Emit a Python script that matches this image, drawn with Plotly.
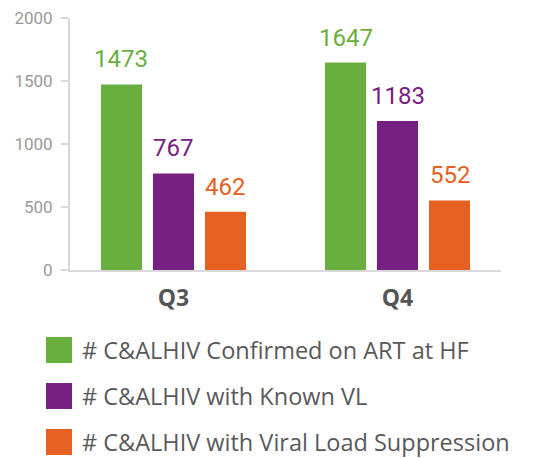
import plotly.graph_objects as go

categories = ["Q3", "Q4"]
series_names = [
    "# C&ALHIV Confirmed on ART at HF",
    "# C&ALHIV with Known VL",
    "# C&ALHIV with Viral Load Suppression",
]
confirmed_art = [1473, 1647]
known_vl = [767, 1183]
vl_suppression = [462, 552]
y_ticks = [0, 500, 1000, 1500, 2000]

series_values = [confirmed_art, known_vl, vl_suppression]
colors = ["#69AF3E", "#762181", "#E56021"]

# page body has an 8px default margin, so the figure is drawn 8px in
OFF = 8
W, H = 533 - OFF, 458 - OFF
ML, MR, MT, MB = 70 - OFF, 32, 18 - OFF, 188
PW, PH = W - ML - MR, H - MT - MB

fig = go.Figure()
for name, vals, col in zip(series_names, series_values, colors):
    fig.add_trace(go.Bar(
        x=categories, y=vals, name=name, marker_color=col,
        marker_line_width=0, showlegend=False, hoverinfo="x+y",
    ))

# value labels
slot_px = 52
for i, (vals, col) in enumerate(zip(series_values, colors)):
    for cat, v in zip(categories, vals):
        fig.add_annotation(
            x=cat, y=v, text=str(v), showarrow=False,
            xanchor="center", yanchor="bottom",
            xshift=(i - 1) * slot_px, yshift=9,
            font=dict(family="Roboto, sans-serif", size=24, color=col),
        )

# manual legend (positions in page pixels, converted to paper coords)
leg_rows = [350, 396, 442]
for yc_page, name, col in zip(leg_rows, series_names, colors):
    yc = yc_page - OFF
    fig.add_shape(
        type="rect", xref="paper", yref="paper",
        x0=(46 - OFF - ML) / PW, x1=(72 - OFF - ML) / PW,
        y0=(H - MB - (yc + 13)) / PH, y1=(H - MB - (yc - 13)) / PH,
        fillcolor=col, line_width=0,
    )
    fig.add_annotation(
        xref="paper", yref="paper",
        x=(80 - OFF - ML) / PW, y=(H - MB - yc) / PH,
        text=name, showarrow=False, xanchor="left", yanchor="middle",
        font=dict(family="Open Sans, sans-serif", size=23.5, color="#595959"),
    )

fig.update_layout(
    width=W, height=H,
    margin=dict(l=ML, r=MR, t=MT, b=MB, autoexpand=False),
    paper_bgcolor="white", plot_bgcolor="white",
    barmode="group", bargap=0.304, bargroupgap=0.21,
    xaxis=dict(
        type="category", range=[-0.462, 1.462], automargin=False,
        showline=True, linecolor="#d9d9d9", linewidth=2,
        ticks="", showgrid=False, zeroline=False,
        tickfont=dict(family="Open Sans, sans-serif", size=23, color="#555555", weight="bold"),
        ticklabelstandoff=6,
    ),
    yaxis=dict(
        range=[0, 2001], tickvals=y_ticks, automargin=False,
        showline=True, linecolor="#d9d9d9", linewidth=2,
        ticks="outside", ticklen=7, tickcolor="#d9d9d9", tickwidth=2,
        showgrid=False, zeroline=False, ticklabeloverflow="allow",
        tickfont=dict(family="Roboto, sans-serif", size=17, color="#999999"),
        ticklabelstandoff=5,
    ),
)

fig.write_html("out.html")
